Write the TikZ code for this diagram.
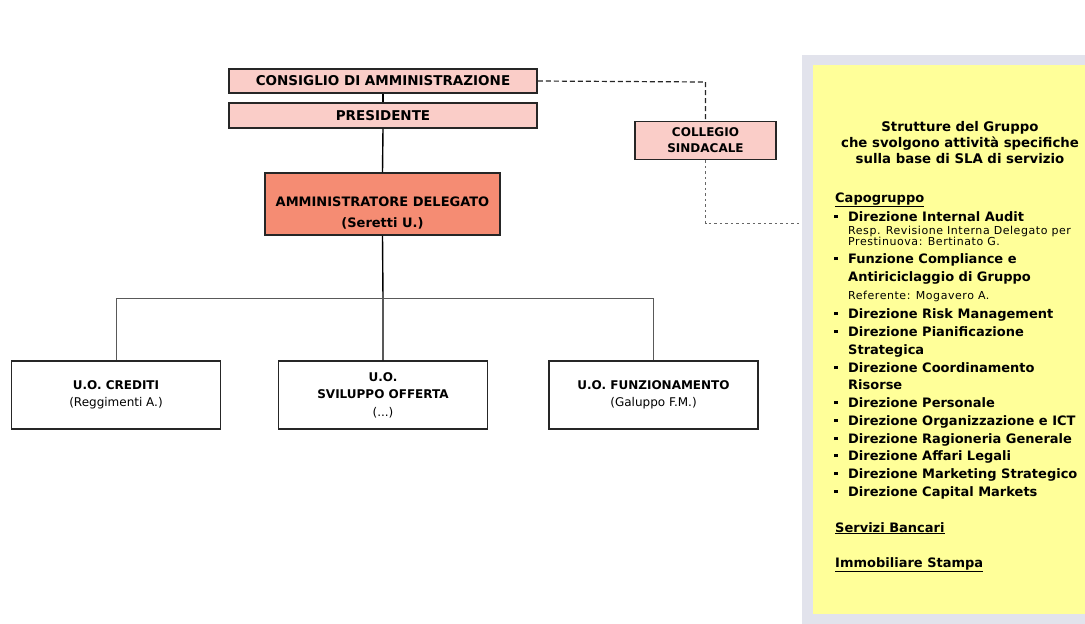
\documentclass[tikz,border=0pt]{standalone}
\usepackage{fontspec}
\setmainfont{DejaVu Sans}
\definecolor{pinkfill}{RGB}{250,205,200}
\definecolor{adfill}{RGB}{245,140,115}
\definecolor{panelyellow}{RGB}{255,255,153}
\definecolor{panelgrey}{RGB}{226,227,236}
\newcommand{\bul}{\makebox[14pt][l]{\rule[3pt]{3.5pt}{3.5pt}}}
\begin{document}
\begin{tikzpicture}[x=1pt,y=-1pt,
  box/.style={draw=black!85, line width=1.5pt, inner sep=0pt, align=center},
  pinkbox/.style={box, fill=pinkfill, font=\bfseries\fontsize{13.5}{15}\selectfont},
  adbox/.style={box, fill=adfill},
  adtext/.style={font=\bfseries\fontsize{13}{21.5}\selectfont, align=center, inner sep=0pt},
  collbox/.style={box, fill=pinkfill, font=\bfseries\fontsize{12}{16}\selectfont},
  unitbox/.style={box, fill=white, minimum width=209pt, minimum height=68pt, font=\fontsize{12}{17.5}\selectfont},
  conn/.style={line width=1.4pt, draw=black},
  branch/.style={line width=1pt, draw=black!65},
  dashtop/.style={line width=1.2pt, draw=black!85, dash pattern=on 5pt off 3pt},
  dashlow/.style={line width=0.9pt, draw=black!60, dash pattern=on 2.5pt off 3pt},
  ptitle/.style={anchor=base, inner sep=0pt, font=\bfseries\fontsize{13.3}{15}\selectfont},
  pline/.style={anchor=base west, inner sep=0pt, font=\bfseries\fontsize{13}{15}\selectfont},
  psmall/.style={anchor=base west, inner sep=0pt, font=\fontsize{11}{12}\selectfont\addfontfeature{LetterSpace=5}}
]
\useasboundingbox (0,0) rectangle (1085,624);
\fill[white] (0,0) rectangle (1085,624);

% right panel
\fill[panelgrey] (802,55) rectangle (1085,624);
\fill[panelyellow] (813,65) rectangle (1085,614);

% boxes
\node[pinkbox, minimum width=308pt, minimum height=24pt] (cons) at (383,81) {CONSIGLIO DI AMMINISTRAZIONE};
\node[pinkbox, minimum width=308pt, minimum height=25pt] (pres) at (383,115.5) {PRESIDENTE};
\node[adbox, minimum width=235pt, minimum height=62pt,
  label={[adtext, yshift=-9pt]center:{AMMINISTRATORE DELEGATO\\(Seretti U.)}}] (ad) at (382.5,204) {};
\node[collbox, minimum width=141pt, minimum height=38pt] (coll) at (705.5,140.5) {COLLEGIO\\SINDACALE};
\node[unitbox] (cred) at (116,395) {\textbf{U.O. CREDITI}\\(Reggimenti A.)};
\node[unitbox] (svil) at (383,395) {\textbf{U.O.}\\\textbf{SVILUPPO OFFERTA}\\(...)};
\node[unitbox] (funz) at (653.5,395) {\textbf{U.O. FUNZIONAMENTO}\\(Galuppo F.M.)};

% junctions
\coordinate (hj) at (383,298);
\coordinate (hl) at (116,298);
\coordinate (hr) at (653.5,298);
\coordinate (dtop) at (705.5,82);
\coordinate (dlow) at (705.5,223);
\coordinate (pend) at (802,223);

% solid connectors
\draw[conn] (cons.south) -- (pres.north);
\draw[conn] (pres.south) -- (ad.north);
\draw[conn] (ad.south) -- (hj) -- (svil.north);
\draw[branch] (hj) -- (hl) -- (cred.north);
\draw[branch] (hj) -- (hr) -- (funz.north);

% dashed connectors
\draw[dashtop] (cons.east) -- (dtop) -- (coll.north);
\draw[dashlow] (coll.south) -- (dlow) -- (pend);

% panel text
\node[ptitle] (t1) at (960,131) {Strutture del Gruppo};
\node[ptitle] (t2) at (960,147) {che svolgono attività specifiche};
\node[ptitle] (t3) at (960,163) {sulla base di SLA di servizio};

\node[pline] (cap) at (835,202) {\underline{Capogruppo}};
\node[pline] (l1) at (834,221) {\bul Direzione Internal Audit};
\node[psmall] (s1) at (848,234.5) {Resp. Revisione Interna Delegato per};
\node[psmall] (s2) at (848,245) {Prestinuova: Bertinato G.};
\node[pline] (l2) at (834,263) {\bul Funzione Compliance e};
\node[pline] (l2b) at (848,281) {Antiriciclaggio di Gruppo};
\node[psmall] (s3) at (848,299) {Referente: Mogavero A.};
\node[pline] (l3) at (834,318) {\bul Direzione Risk Management};
\node[pline] (l4) at (834,336) {\bul Direzione Pianificazione};
\node[pline] (l4b) at (848,354) {Strategica};
\node[pline] (l5) at (834,372) {\bul Direzione Coordinamento};
\node[pline] (l5b) at (848,389) {Risorse};
\node[pline] (l6) at (834,407) {\bul Direzione Personale};
\node[pline] (l7) at (834,425) {\bul Direzione Organizzazione e ICT};
\node[pline] (l8) at (834,443) {\bul Direzione Ragioneria Generale};
\node[pline] (l9) at (834,460) {\bul Direzione Affari Legali};
\node[pline] (l10) at (834,478) {\bul Direzione Marketing Strategico};
\node[pline] (l11) at (834,496) {\bul Direzione Capital Markets};
\node[pline] (sb) at (835,532) {\underline{Servizi Bancari}};
\node[pline] (is) at (835,567) {\underline{Immobiliare Stampa}};
\end{tikzpicture}
\end{document}
